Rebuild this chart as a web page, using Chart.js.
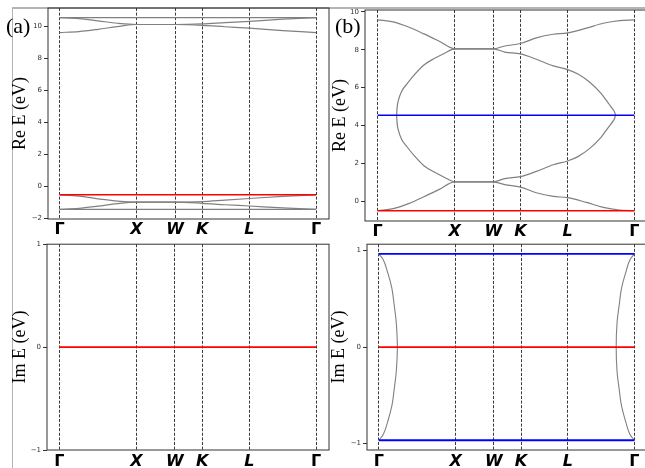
<!DOCTYPE html>
<html>
<head>
<meta charset="utf-8">
<script src="https://cdn.jsdelivr.net/npm/chart.js@4.4.1/dist/chart.umd.min.js"></script>
<style>
  body { margin: 0; width: 645px; height: 468px; overflow: hidden; background: #fff; position: relative; }
  canvas { position: absolute; }
  .tag { position: absolute; font-family: 'Liberation Serif', serif; font-size: 22px; line-height: 1; color: #000; }
  .frame { position: absolute; background: #b4b4b4; }
</style>
</head>
<body>
<div class="frame" style="left:12px;top:7px;width:633px;height:2px"></div>
<div class="frame" style="left:12px;top:7px;width:1px;height:461px"></div>
<canvas id="reA" style="left:0;top:0" width="330" height="240"></canvas>
<canvas id="reB" style="left:330px;top:0" width="318" height="240"></canvas>
<canvas id="imA" style="left:0;top:238px" width="330" height="230"></canvas>
<canvas id="imB" style="left:330px;top:238px" width="318" height="230"></canvas>
<div class="tag" style="left:6px;top:15px">(a)</div>
<div class="tag" style="left:335px;top:15px">(b)</div>
<script>
// high-symmetry path (fcc): Γ-X-W-K-L-Γ
const kPath = [0, 1, 1.5, 1.854, 2.466, 3.332];
const kLabels = ['Γ', 'X', 'W', 'K', 'L', 'Γ'];
const kEnds = [0, 3.332];

// (a) real part
const aBandK = [0, 0.25, 0.5, 0.75, 1, 1.5, 1.854, 2.15, 2.466, 2.9, 3.332];
const aTopFlat = [10.53, 10.53];
const aTopUpper = [10.53, 10.47, 10.33, 10.18, 10.1, 10.1, 10.14, 10.22, 10.3, 10.43, 10.53];
const aTopLower = [9.6, 9.66, 9.8, 9.97, 10.1, 10.1, 10.05, 9.96, 9.87, 9.72, 9.6];
const aRed = [-0.52, -0.52];
const aBotFlat = [-1.43, -1.43];
const aBotUpper = [-0.52, -0.6, -0.77, -0.92, -0.98, -0.98, -0.95, -0.85, -0.75, -0.62, -0.52];
const aBotLower = [-1.43, -1.37, -1.23, -1.07, -0.98, -0.98, -1.05, -1.14, -1.22, -1.34, -1.43];
// (a) imaginary part
const aImRed = [0, 0];

// (b) real part
const bOuterK = [0, 0.2, 0.4, 0.6, 0.8, 1, 1.5, 1.65, 1.854, 2.06, 2.28, 2.466, 2.71, 2.93, 3.14, 3.332];
const bTop = [9.58, 9.47, 9.2, 8.84, 8.45, 8.05, 8.05, 8.2, 8.33, 8.63, 8.82, 8.89, 9.14, 9.4, 9.54, 9.58];
const bBottom = [-0.5, -0.39, -0.12, 0.24, 0.63, 1.03, 1.03, 0.88, 0.75, 0.45, 0.26, 0.19, -0.06, -0.32, -0.46, -0.5];
const bInnerK = [0.246, 0.252, 0.27, 0.31, 0.38, 0.48, 0.6, 0.74, 0.87, 1, 1.5, 1.65, 1.854, 2.06, 2.28, 2.466, 2.6, 2.75, 2.9, 3.0, 3.06, 3.08, 3.086];
const bInnerUp = [4.54, 4.95, 5.35, 5.8, 6.2, 6.7, 7.2, 7.55, 7.82, 8.05, 8.05, 7.88, 7.78, 7.5, 7.15, 6.95, 6.72, 6.3, 5.7, 5.15, 4.82, 4.67, 4.54];
const bInnerDn = [4.54, 4.13, 3.73, 3.28, 2.88, 2.38, 1.88, 1.53, 1.26, 1.03, 1.03, 1.2, 1.3, 1.58, 1.93, 2.13, 2.36, 2.78, 3.38, 3.93, 4.26, 4.41, 4.54];
const bBlue = [4.54, 4.54];
const bRed = [-0.5, -0.5];
// (b) imaginary part
const bImBlueUp = [0.965, 0.965];
const bImBlueDn = [-0.965, -0.965];
const bImRed = [0, 0];
const bImLeftK = [0, 0.06, 0.112, 0.169, 0.199, 0.227, 0.241, 0.227, 0.199, 0.169, 0.112, 0.06, 0];
const bImRightK = [3.332, 3.272, 3.222, 3.165, 3.135, 3.106, 3.095, 3.106, 3.135, 3.165, 3.222, 3.272, 3.332];
const bImArcE = [0.965, 0.9, 0.78, 0.61, 0.44, 0.25, 0, -0.25, -0.44, -0.61, -0.78, -0.9, -0.965];

const GREY = '#808080', RED = '#ff0000', BLUE = '#0000ff';

function line(ks, es, color, width, curve) {
  return {
    data: ks.map((k, i) => ({ x: k, y: es[i] })),
    showLine: true,
    borderColor: color,
    borderWidth: width,
    pointRadius: 0,
    fill: false,
    cubicInterpolationMode: curve === 'mono' ? 'monotone' : 'default',
    tension: curve === 'arc' ? 0.4 : 0
  };
}

const frameBox = {
  id: 'frameBox',
  afterDatasetsDraw(chart) {
    const a = chart.chartArea, ctx = chart.ctx;
    ctx.save();
    ctx.strokeStyle = '#333';
    ctx.lineWidth = 1;
    ctx.strokeRect(a.left, a.top, a.right - a.left, a.bottom - a.top);
    ctx.restore();
  }
};

function panel(id, o) {
  new Chart(document.getElementById(id), {
    type: 'scatter',
    data: { datasets: o.datasets },
    options: {
      responsive: false,
      animation: false,
      layout: { padding: { top: o.top, right: o.right, left: 0, bottom: 0 } },
      plugins: { legend: { display: false }, tooltip: { enabled: false } },
      scales: {
        x: {
          type: 'linear', min: o.xMin, max: o.xMax,
          afterBuildTicks: s => { s.ticks = kPath.map(v => ({ value: v })); },
          afterFit: s => { s.height = o.xHeight; },
          grid: { color: '#222', lineWidth: 0.9, drawTicks: false },
          border: { display: false, dash: [3, 1.6] },
          ticks: {
            autoSkip: false, maxRotation: 0, padding: o.xPad, color: '#000',
            callback: (v, i) => kLabels[i],
            font: c => ({ family: 'DejaVu Sans', size: 16, weight: 'bold',
                          style: (c.index === 0 || c.index === 5) ? 'normal' : 'italic' })
          }
        },
        y: {
          type: 'linear', min: o.yMin, max: o.yMax,
          afterFit: s => { s.width = o.yWidth; },
          grid: { drawOnChartArea: false, drawTicks: true, tickLength: 4, color: '#333' },
          border: { display: false },
          ticks: {
            stepSize: o.step, includeBounds: false, padding: 2, color: '#333',
            font: { family: 'DejaVu Sans', size: 7 },
            callback: v => String(v).replace('-', '\u2212')
          },
          title: {
            display: true, text: o.title, color: '#000',
            font: { family: 'Liberation Serif', size: 18, lineHeight: 1 },
            padding: { top: o.titlePad, bottom: 0 }
          }
        }
      }
    },
    plugins: [frameBox]
  });
}

panel('reA', {
  top: 8, right: 1, xHeight: 21, xPad: 1, yWidth: 48, titlePad: 11,
  xMin: -0.15, xMax: 3.5, yMin: -2.03, yMax: 11.13, step: 2, title: 'Re E (eV)',
  datasets: [
    line(kEnds, aRed, RED, 1.5),
    line(kEnds, aTopFlat, GREY, 1.2),
    line(aBandK, aTopUpper, GREY, 1.2, 'mono'),
    line(aBandK, aTopLower, GREY, 1.2, 'mono'),
    line(kEnds, aBotFlat, GREY, 1.2),
    line(aBandK, aBotUpper, GREY, 1.2, 'mono'),
    line(aBandK, aBotLower, GREY, 1.2, 'mono')
  ]
});

panel('reB', {
  top: 10, right: 0, xHeight: 19, xPad: 1, yWidth: 35, titlePad: 1,
  xMin: -0.165, xMax: 3.51, yMin: -1.04, yMax: 10.1, step: 2, title: 'Re E (eV)',
  datasets: [
    line(kEnds, bBlue, BLUE, 1.6),
    line(kEnds, bRed, RED, 1.6),
    line(bOuterK, bTop, GREY, 1.2, 'mono'),
    line(bOuterK, bBottom, GREY, 1.2, 'mono'),
    line(bInnerK, bInnerUp, GREY, 1.2, 'mono'),
    line(bInnerK, bInnerDn, GREY, 1.2, 'mono')
  ]
});

panel('imA', {
  top: 2, right: 1, xHeight: 18, xPad: 2, yWidth: 47, titlePad: 11,
  xMin: -0.16, xMax: 3.5, yMin: -1, yMax: 1, step: 1, title: 'Im E (eV)',
  datasets: [
    line(kEnds, aImRed, RED, 1.6)
  ]
});

panel('imB', {
  top: 2, right: 0, xHeight: 18, xPad: 2, yWidth: 37, titlePad: 0,
  xMin: -0.155, xMax: 3.51, yMin: -1.066, yMax: 1.066, step: 1, title: 'Im E (eV)',
  datasets: [
    line(kEnds, bImBlueUp, BLUE, 1.8),
    line(kEnds, bImBlueDn, BLUE, 1.8),
    line(kEnds, bImRed, RED, 1.6),
    line(bImLeftK, bImArcE, GREY, 1.1, 'arc'),
    line(bImRightK, bImArcE, GREY, 1.1, 'arc')
  ]
});
</script>
</body>
</html>
